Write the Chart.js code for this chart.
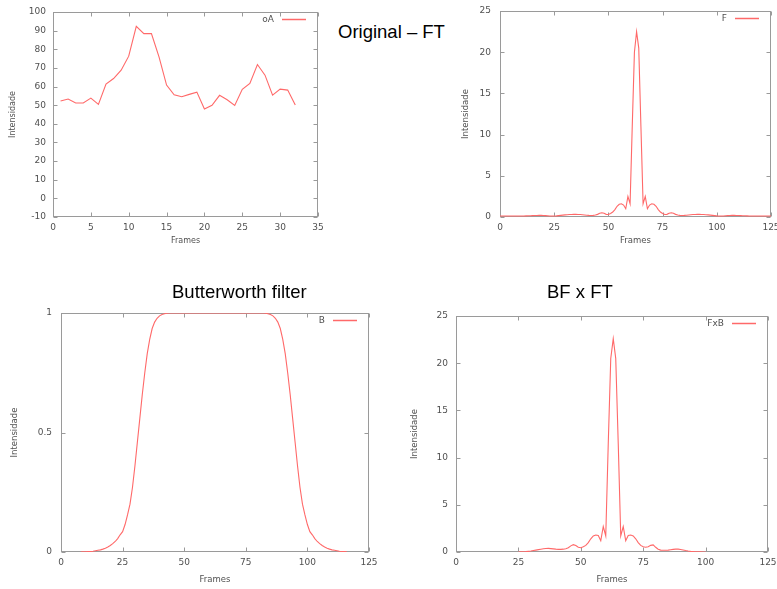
<!DOCTYPE html>
<html>
<head>
<meta charset="utf-8">
<script src="https://cdn.jsdelivr.net/npm/chart.js@4.4.1/dist/chart.umd.min.js"></script>
<style>
  html, body { margin: 0; padding: 0; background: #fff; width: 777px; height: 589px; overflow: hidden; }
  canvas { position: absolute; }
  .ttl { position: absolute; font-family: "Liberation Sans", Arial, sans-serif; font-size: 18.5px; color: #000; white-space: nowrap; line-height: 1; }
</style>
</head>
<body>
<canvas id="c1" width="330" height="250" style="left:0px;top:0px"></canvas>
<canvas id="c2" width="327" height="250" style="left:450px;top:0px"></canvas>
<canvas id="c3" width="385" height="289" style="left:0px;top:300px"></canvas>
<canvas id="c4" width="382" height="289" style="left:395px;top:300px"></canvas>
<div class="ttl" style="left:338px;top:23px">Original – FT</div>
<div class="ttl" style="left:172px;top:283px">Butterworth filter</div>
<div class="ttl" style="left:547px;top:283px">BF x FT</div>
<script>
// ---------- DATA ----------
const titles = ["Original – FT", "Butterworth filter", "BF x FT"];
const axisXTitle = "Frames";
const axisYTitle = "Intensidade";

// oA : original intensity curve, frames 1..32
const oAFrames = [1,2,3,4,5,6,7,8,9,10,11,12,13,14,15,16,17,18,19,20,21,22,23,24,25,26,27,28,29,30,31,32];
const oAValues = [52.2,53.3,51.2,51.2,53.8,50.4,61.3,64.3,68.8,76.3,92.3,88.4,88.4,75.9,60.8,55.6,54.5,55.8,57.0,47.9,49.9,55.3,52.9,49.9,58.5,61.7,71.8,66.1,55.4,58.6,58.1,50.1];

// F : Fourier transform magnitude, frames 0..125
const fStart = 0;
const fValues = [
  0.12,0.12,0.12,0.12,0.12,0.12,0.12,0.12,0.12,0.12,0.12,
  0.13,0.14,0.15,0.16,0.17,0.18,0.19,0.20,0.20,
  0.19,0.17,0.15,0.13,0.12,0.12,
  0.14,0.17,0.20,0.23,0.26,0.28,0.30,0.31,
  0.32,0.32,0.31,0.30,0.28,0.25,0.22,
  0.20,0.19,0.20,0.24,0.32,
  0.45,0.52,0.45,0.32,0.30,0.42,0.60,
  0.90,1.30,1.55,1.60,1.45,1.00,2.50,1.60,
  11.0,20.0,22.5,20.5,11.0,
  1.60,2.50,1.00,1.45,1.60,1.55,1.30,0.90,
  0.60,0.42,0.30,0.32,0.45,0.52,0.45,
  0.32,0.24,0.20,0.19,0.20,
  0.22,0.25,0.28,0.30,0.31,0.32,0.32,
  0.31,0.30,0.28,0.26,0.23,0.20,0.17,0.14,
  0.12,0.12,0.13,0.15,0.17,0.19,
  0.20,0.20,0.19,0.18,0.17,0.16,0.15,0.14,0.13,
  0.12,0.12,0.12,0.12,0.12,0.12,0.12,0.12,0.12,0.12
];

// B : Butterworth band-pass filter, frames 8..116
const bStart = 8;
const bValues = [
  0,0.0005,0.001,0.0015,0.002,0.003,0.005,0.007,0.009,0.012,0.016,0.021,0.027,0.035,0.044,0.056,0.072,0.085,0.115,0.155,
  0.2,0.27,0.36,0.46,0.56,0.66,0.75,0.83,0.89,0.935,0.962,0.978,0.988,0.994,0.997,0.999,1,
  1,1,1,1,1,1,1,1,1,1,1,1,1,1,1,1,1,1,1,1,1,1,1,1,1,1,1,1,1,1,1,1,1,1,1,1,1,
  1,0.999,0.997,0.994,0.988,0.978,0.962,0.935,0.89,0.83,0.75,0.66,0.56,0.46,0.36,0.27,0.2,
  0.155,0.115,0.085,0.072,0.056,0.044,0.035,0.027,0.021,0.016,0.012,0.009,0.007,0.005,0.003,0.002,0.0015,0.001
];

// FxB : filtered spectrum, frames 25..100
const fxbStart = 25;
const fxbValues = [
  0,0.01,0.02,0.04,0.07,0.10,0.15,0.20,0.25,0.30,0.34,0.37,0.38,0.36,0.33,0.30,0.28,0.28,0.30,0.35,
  0.45,0.65,0.78,0.68,0.50,0.45,0.55,0.70,1.00,1.40,1.70,1.80,1.75,1.20,2.70,1.70,
  11.5,20.5,22.6,20.5,11.5,
  1.70,2.70,1.20,1.75,1.80,1.70,1.40,1.00,0.70,0.55,0.50,0.55,0.70,0.75,0.50,
  0.30,0.20,0.18,0.18,0.20,0.24,0.28,0.30,0.30,0.27,0.22,0.15,0.10,0.07,0.05,0.03,0.02,0.01,0,0
];

// ---------- RENDERING ----------
const LINE = 'rgb(255,105,105)';
const FRAME = '#9a9a9a';
const TXT = '#505050';
const FONT = '"DejaVu Sans", sans-serif';

const gnuFrame = {
  id: 'gnuFrame',
  beforeDatasetsDraw(chart) {
    const {ctx, chartArea: a, scales: {x, y}} = chart;
    ctx.save();
    ctx.strokeStyle = FRAME;
    ctx.lineWidth = 1;
    const L = Math.round(a.left) + 0.5, R = Math.round(a.right) - 0.5;
    const T = Math.round(a.top) + 0.5, B = Math.round(a.bottom) - 0.5;
    ctx.strokeRect(L, T, R - L, B - T);
    ctx.beginPath();
    const tl = 4;
    x.ticks.forEach((t, i) => {
      const px = Math.round(x.getPixelForTick(i)) + 0.5;
      ctx.moveTo(px, B); ctx.lineTo(px, B - tl);
      ctx.moveTo(px, T); ctx.lineTo(px, T + tl);
    });
    y.ticks.forEach((t, i) => {
      const py = Math.round(y.getPixelForTick(i)) + 0.5;
      ctx.moveTo(L, py); ctx.lineTo(L + tl, py);
      ctx.moveTo(R, py); ctx.lineTo(R - tl, py);
    });
    ctx.stroke();
    ctx.restore();
  },
  afterDatasetsDraw(chart) {
    const {ctx, chartArea: a} = chart;
    const ds = chart.data.datasets[0];
    ctx.save();
    const yy = Math.round(a.top + 7) + 0.5;
    const x2 = a.right - 12, x1 = x2 - 24;
    ctx.strokeStyle = ds.borderColor;
    ctx.lineWidth = 1.5;
    ctx.beginPath(); ctx.moveTo(x1, yy); ctx.lineTo(x2, yy); ctx.stroke();
    ctx.fillStyle = TXT;
    ctx.font = '9px ' + FONT;
    ctx.textAlign = 'right';
    ctx.textBaseline = 'middle';
    ctx.fillText(ds.label, x1 - 8, yy);
    ctx.restore();
  }
};

function makeChart(id, cfg) {
  const cv = document.getElementById(id);
  const cx = cfg.canvas[0], cy = cfg.canvas[1], cw = cv.width, ch = cv.height;
  const [L, T, R, B] = cfg.area;
  const yW = L - cx, xH = cy + ch - B;
  new Chart(cv, {
    type: 'line',
    data: {
      datasets: [{
        label: cfg.label,
        data: cfg.values.map((v, i) => ({x: cfg.xs ? cfg.xs[i] : cfg.start + i, y: v})),
        borderColor: LINE,
        borderWidth: 1.1,
        pointRadius: 0,
        tension: 0,
        fill: false
      }]
    },
    options: {
      responsive: false,
      animation: false,
      devicePixelRatio: 1,
      layout: { padding: { left: 0, top: T - cy, right: cx + cw - R, bottom: 0 } },
      plugins: { legend: { display: false }, tooltip: { enabled: false } },
      scales: {
        x: {
          type: 'linear', min: cfg.xMin, max: cfg.xMax,
          grid: { display: false, drawTicks: false, tickLength: 0 },
          border: { display: false },
          ticks: { stepSize: cfg.xStep, color: TXT, font: { family: FONT, size: 9 }, padding: cfg.xPad, maxRotation: 0, autoSkip: false,
                   callback: (v) => String(v) },
          title: { display: true, text: axisXTitle, color: TXT, font: { family: FONT, size: cfg.tSize }, padding: { top: 0, bottom: cfg.xtPad } },
          afterFit(s) { s.height = xH; s.paddingLeft = 0; s.paddingRight = 0; s.paddingTop = 0; s.paddingBottom = 0; }
        },
        y: {
          type: 'linear', min: cfg.yMin, max: cfg.yMax,
          grid: { display: false, drawTicks: false, tickLength: 0 },
          border: { display: false },
          ticks: { stepSize: cfg.yStep, color: TXT, font: { family: FONT, size: 9 }, padding: cfg.yPad, autoSkip: false,
                   callback: (v) => String(v) },
          title: { display: true, text: axisYTitle, color: TXT, font: { family: FONT, size: cfg.tSize }, padding: { top: cfg.ytPad, bottom: 0 } },
          afterFit(s) { s.width = yW; s.paddingLeft = 0; s.paddingRight = 0; s.paddingTop = 0; s.paddingBottom = 0; }
        }
      }
    },
    plugins: [gnuFrame]
  });
}

makeChart('c1', { canvas: [0, 0], area: [53, 12, 318, 217], label: 'oA', xs: oAFrames, values: oAValues,
  xMin: 0, xMax: 35, xStep: 5, yMin: -10, yMax: 100, yStep: 10, xPad: 5, yPad: 7, tSize: 8, xtPad: 4, ytPad: 8 });
makeChart('c2', { canvas: [450, 0], area: [500, 11, 771, 217], label: 'F', start: fStart, values: fValues,
  xMin: 0, xMax: 125, xStep: 25, yMin: 0, yMax: 25, yStep: 5, xPad: 5, yPad: 9, tSize: 8.5, xtPad: 4, ytPad: 11 });
makeChart('c3', { canvas: [0, 300], area: [61, 313, 369, 552], label: 'B', start: bStart, values: bValues,
  xMin: 0, xMax: 125, xStep: 25, yMin: 0, yMax: 1, yStep: 0.5, xPad: 5, yPad: 9, tSize: 8.5, xtPad: 4, ytPad: 10 });
makeChart('c4', { canvas: [395, 300], area: [456, 316, 768, 552], label: 'FxB', start: fxbStart, values: fxbValues,
  xMin: 0, xMax: 125, xStep: 25, yMin: 0, yMax: 25, yStep: 5, xPad: 5, yPad: 8, tSize: 8.5, xtPad: 4, ytPad: 15 });
</script>
</body>
</html>
